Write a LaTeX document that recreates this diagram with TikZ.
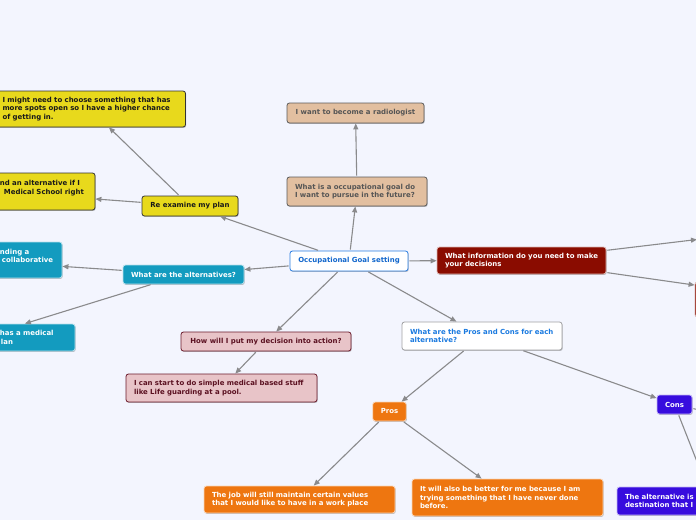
\documentclass[tikz,border=0pt]{standalone}
\usepackage{fontspec}
\setmainfont{DejaVu Sans}
\usepackage{xcolor}
\usepackage{tikz}
\usetikzlibrary{arrows.meta,shadows}
\definecolor{bgpage}{RGB}{243,245,254}
\definecolor{linegray}{RGB}{138,138,140}
\definecolor{tanfill}{RGB}{226,191,160}
\definecolor{tanline}{RGB}{90,90,90}
\definecolor{tantext}{RGB}{85,85,85}
\definecolor{ylwfill}{RGB}{232,217,28}
\definecolor{tealfill}{RGB}{19,155,191}
\definecolor{pinkfill}{RGB}{232,196,200}
\definecolor{pinkline}{RGB}{107,26,43}
\definecolor{pinktext}{RGB}{90,16,32}
\definecolor{redfill}{RGB}{138,12,0}
\definecolor{orgfill}{RGB}{238,118,16}
\definecolor{violfill}{RGB}{55,12,222}
\definecolor{ctrline}{RGB}{42,125,225}
\definecolor{ctrtext}{RGB}{17,102,204}
\definecolor{pctext}{RGB}{26,122,224}

\begin{document}
\begin{tikzpicture}[x=1pt,y=-1pt,
  box/.style={draw,rounded corners=2.5pt,line width=0.8pt,align=left,inner xsep=8pt,inner ysep=2pt,
    font=\bfseries\fontsize{6.95}{8.6}\selectfont,
    drop shadow={shadow xshift=0.7pt,shadow yshift=-0.9pt,opacity=0.25,fill=black}},
  ctrbox/.style={box,fill=white,draw=ctrline,text=ctrtext},
  pcbox/.style={box,fill=white,draw=linegray!80,text=pctext},
  tanbox/.style={box,fill=tanfill,draw=tanline,text=tantext},
  ylwbox/.style={box,fill=ylwfill,draw=black!80,text=black!90},
  tealbox/.style={box,fill=tealfill,draw=white!70!tealfill,text=white},
  pinkbox/.style={box,fill=pinkfill,draw=pinkline,text=pinktext},
  redbox/.style={box,fill=redfill,draw=white!70!redfill,text=white},
  orgbox/.style={box,fill=orgfill,draw=white!70!orgfill,text=white},
  violbox/.style={box,fill=violfill,draw=white!70!violfill,text=white},
  arr/.style={-{Triangle[length=6pt,width=5pt]},draw=linegray,line width=1.1pt,shorten <=1pt}]
  \useasboundingbox (0,0) rectangle (696,520);
  \fill[bgpage] (0,0) rectangle (696,520);
  \clip (0,0) rectangle (696,520);

  % centre and goal
  \node[ctrbox,minimum width=118pt,minimum height=20pt] (c) at (349,261) {Occupational Goal setting};
  \node[tanbox,text width=124pt,minimum height=29pt] (goal) at (357,191.5) {What is a occupational goal do\\I want to pursue in the future?};
  \node[tanbox,minimum width=137pt,minimum height=20pt] (radio) at (355.5,113) {I want to become a radiologist};

  % re examine
  \node[ylwbox,minimum width=96pt,minimum height=20pt] (reex) at (190,206) {Re examine my plan};
  \node[ylwbox,text width=175pt,minimum height=36pt] (spots) at (90,109) {I might need to choose something that has\\more spots open so I have a higher chance\\of getting in.};
  \node[ylwbox,text width=184pt,minimum height=37pt] (findalt) at (-5,191.5) {\hspace*{97pt}\mbox{nd an alternative if I}\\\hspace*{101pt}\mbox{Medical School right}\\\mbox{}};

  % alternatives
  \node[tealbox,minimum width=121pt,minimum height=19pt] (alts) at (183.5,274.5) {What are the alternatives?};
  \node[tealbox,text width=174pt,minimum height=36pt] (collab) at (-33,260) {\hspace*{120pt}\mbox{nding a}\\\hspace*{122pt}\mbox{collaborative}\\\mbox{}};
  \node[tealbox,text width=174pt,minimum height=27pt] (medplan) at (-20,337.5) {\hspace*{107pt}\mbox{has a medical}\\\hspace*{108pt}\mbox{lan}};

  % action
  \node[pinkbox,minimum width=170pt,minimum height=19pt] (how) at (266,341.5) {How will I put my decision into action?};
  \node[pinkbox,text width=175pt,minimum height=28pt] (start) at (221.5,388) {I can start to do simple medical based stuff\\like Life guarding at a pool.};

  % information
  \node[redbox,text width=153pt,minimum height=27pt] (info) at (521.5,260.5) {What information do you need to make\\your decisions};
  \node[redbox,minimum width=204pt,minimum height=35pt] (info2) at (797,299.5) {};
  \coordinate (info1) at (697,239.5);

  % pros and cons
  \node[pcbox,text width=144pt,minimum height=28pt] (pc) at (482,336) {What are the Pros and Cons for each\\alternative?};
  \node[orgbox,minimum width=33pt,minimum height=19pt] (pros) at (389.5,411.5) {Pros};
  \node[violbox,minimum width=35pt,minimum height=19pt] (cons) at (674.5,404.5) {Cons};
  \node[orgbox,text width=175pt,minimum height=27pt] (job) at (299.5,499.5) {The job will still maintain certain values\\that I would like to have in a work place};
  \node[orgbox,text width=175pt,minimum height=37pt] (better) at (507.5,497.5) {It will also be better for me because I am\\trying something that I have never done\\before.};
  \node[violbox,text width=175pt,minimum height=28pt] (altdest) at (712.5,501) {The alternative is\\destination that I};
  \coordinate (conr) at (730,416.7);

  \draw[arr] (c) -- (goal);
  \draw[arr] (goal) -- (radio);
  \draw[arr] (c) -- (reex);
  \draw[arr] (reex) -- (spots);
  \draw[arr] (reex) -- (findalt);
  \draw[arr] (c) -- (alts);
  \draw[arr] (alts) -- (collab);
  \draw[arr] (alts) -- (medplan);
  \draw[arr] (c) -- (how);
  \draw[arr] (how) -- (start);
  \draw[arr] (c) -- (info);
  \draw[arr] (info) -- (info1);
  \draw[arr] (info) -- (info2);
  \draw[arr] (c) -- (pc);
  \draw[arr] (pc) -- (pros);
  \draw[arr] (pc) -- (cons);
  \draw[arr] (pros) -- (job);
  \draw[arr] (pros) -- (better);
  \draw[arr] (cons) -- (altdest);
  \draw[arr] (cons) -- (conr);
\end{tikzpicture}
\end{document}
